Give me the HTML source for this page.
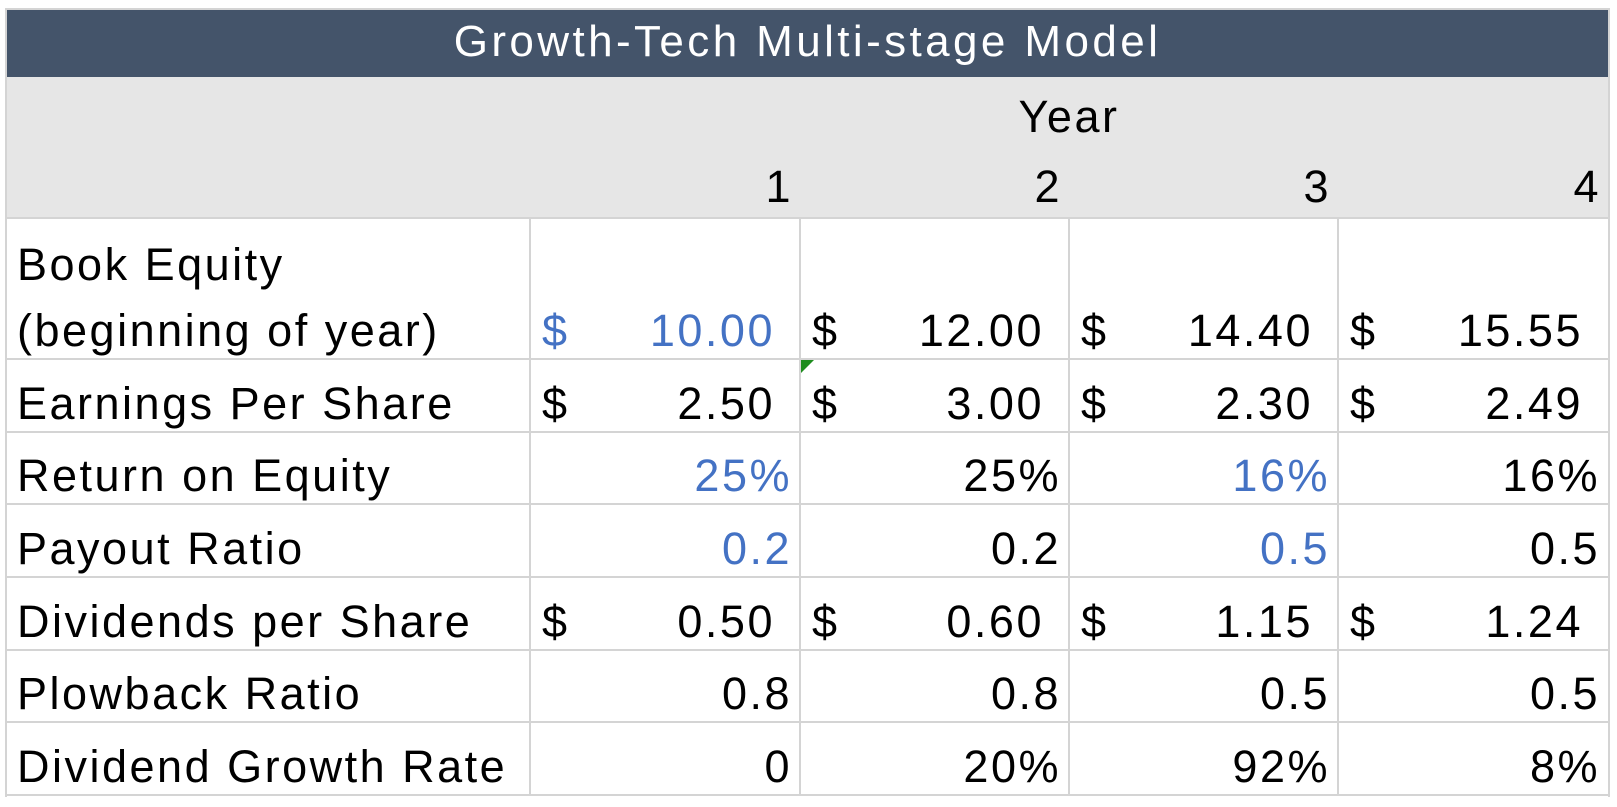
<!DOCTYPE html>
<html><head><meta charset="utf-8"><style>
body{margin:0;width:1617px;height:807px;background:#fff;position:relative;overflow:hidden;font-family:"Liberation Sans",sans-serif;}
.a{position:absolute;white-space:nowrap;line-height:1;}
.t{font-size:45px;color:#000;letter-spacing:2.5px;}
.b{color:#4472C4;}
.hl{position:absolute;background:#d4d4d4;height:2px;}
.vl{position:absolute;background:#d4d4d4;width:2px;}
</style></head><body>
<div class="a" style="left:6px;top:9px;width:1603px;height:68px;background:#44546A;"></div>
<div class="a" style="left:6px;top:20px;width:1603px;text-align:center;color:#fff;font-size:44px;letter-spacing:3.4px;">Growth-Tech Multi-stage Model</div>
<div class="a" style="left:6px;top:77px;width:1603px;height:141px;background:#e6e6e6;"></div>
<div class="a t" style="left:530px;width:1078px;top:94px;text-align:center;">Year</div>
<div id="root"></div>
<script>
const years=["1","2","3","4"];
const labels=[["Book Equity","(beginning of year)"],["Earnings Per Share"],["Return on Equity"],["Payout Ratio"],["Dividends per Share"],["Plowback Ratio"],["Dividend Growth Rate"]];
const bookEquity=["10.00","12.00","14.40","15.55"];
const eps=["2.50","3.00","2.30","2.49"];
const roe=["25%","25%","16%","16%"];
const payout=["0.2","0.2","0.5","0.5"];
const dps=["0.50","0.60","1.15","1.24"];
const plowback=["0.8","0.8","0.5","0.5"];
const growth=["0","20%","92%","8%"];
const rows=[bookEquity,eps,roe,payout,dps,plowback,growth];
const isDollar=[true,true,false,false,true,false,false];
const blue=[[0],[],[0,2],[0,2],[],[],[]];
const colX=[530,800,1069,1338,1608];
const rowY=[218,359,432,504,577,650,722,795];
const root=document.body;
function add(cls,style,text,name){const d=document.createElement('div');d.className=cls;d.style.cssText=style;if(text!==undefined)d.textContent=text;


root.appendChild(d);return d;}
years.forEach((y,i)=>{add('a t','left:'+colX[i]+'px;width:'+(colX[i+1]-colX[i]-7)+'px;text-align:right;top:164px;',y,'year-header-'+y);});
rows.forEach((vals,r)=>{
  const bottom=rowY[r+1];
  const lab=labels[r];
  lab.forEach((l,k)=>{add('a t','left:17px;top:'+(bottom-51-(lab.length-1-k)*66)+'px;',l,'row-label');});
  vals.forEach((v,c)=>{
    const b=blue[r].includes(c)?' b':'';
    if(isDollar[r]){
      add('a t'+b,'left:'+(colX[c]+12)+'px;top:'+(bottom-51)+'px;','$','dollar-sign');
      add('a t'+b,'left:'+colX[c]+'px;width:'+(colX[c+1]-colX[c]-25)+'px;text-align:right;top:'+(bottom-51)+'px;',v,'cell-value');
    } else {
      add('a t'+b,'left:'+colX[c]+'px;width:'+(colX[c+1]-colX[c]-8)+'px;text-align:right;top:'+(bottom-51)+'px;',v,'cell-value');
    }
  });
});
rowY.forEach(y=>add('hl','left:6px;width:1604px;top:'+(y-1)+'px;',undefined,'row-gridline'));
add('hl','left:6px;width:1604px;top:8px;',undefined,'top-border');
colX.slice(0,4).forEach(x=>add('vl','left:'+(x-1)+'px;top:218px;height:578px;',undefined,'col-gridline'));
add('vl','left:5px;top:8px;height:789px;',undefined,'left-border');
add('vl','left:1608px;top:8px;height:789px;',undefined,'right-border');
const tri=add('a','left:801px;top:360px;width:0;height:0;border-top:13px solid #1e8c1e;border-right:13px solid transparent;',undefined,'error-indicator');
</script>
</body></html>
